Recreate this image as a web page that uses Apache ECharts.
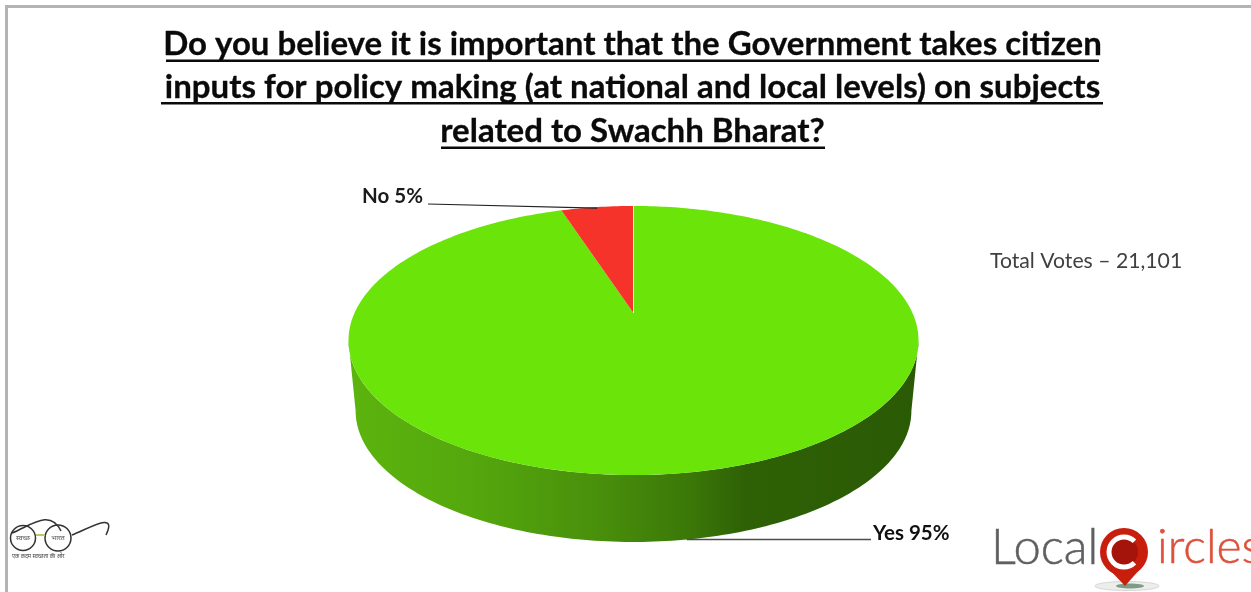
<!DOCTYPE html>
<html>
<head>
<meta charset="utf-8">
<style>html,body{margin:0;padding:0;background:#fff}#chart{width:1251px;height:592px}</style>
<script src="https://cdn.jsdelivr.net/npm/echarts@6/dist/echarts.min.js"></script>
</head>
<body>
<div id="chart"></div>
<script>
// Survey results
const categories = ['Yes', 'No'];
const shares = [95, 5];
const sliceColors = ['#6AE409', '#F5332B'];
const titleLines = [
  'Do you believe it is important that the Government takes citizen',
  'inputs for policy making (at national and local levels) on subjects',
  'related to Swachh Bharat?'
];
const totalVotesLabel = 'Total Votes \u2013 21,101';

// Tilted pie: a circle seen in perspective, far edge at the top
const pie = { cx: 633.5, apexY: 313, R: 279, A: 128.9, k: 0.2044, baseApexY: 384, baseScale: 0.975 };

function project(deg, scale, apexY) {
  const t = deg * Math.PI / 180, s = Math.sin(t), c = Math.cos(t), d = 1 + pie.k * c;
  return [pie.cx + scale * pie.R * s / d, apexY - scale * pie.A * c / d];
}
function rim(from, to, scale, apexY) {
  const pts = [], n = Math.max(2, Math.ceil(Math.abs(to - from)));
  for (let i = 0; i <= n; i++) pts.push(project(from + (to - from) * i / n, scale, apexY));
  return pts;
}
const total = shares.reduce((a, b) => a + b, 0);
function sliceRange(i) {
  let a = 0;
  for (let j = 0; j < i; j++) a += shares[j];
  return [a / total * 360, (a + shares[i]) / total * 360];
}
const wallFrom = Math.acos(-pie.k) * 180 / Math.PI, wallTo = 360 - wallFrom;
const wallFill = {
  type: 'linear', x: 350, y: 0, x2: 915, y2: 0, global: true,
  colorStops: [
    { offset: 0, color: '#5CB40E' }, { offset: 0.22, color: '#54A70D' },
    { offset: 0.45, color: '#488E0B' }, { offset: 0.6, color: '#3B7808' },
    { offset: 0.7, color: '#2E6106' }, { offset: 1, color: '#2B5A05' }
  ]
};

function renderSlice(params, api) {
  const i = params.dataIndex, value = api.value(0);
  const [a0, a1] = sliceRange(i);
  const children = [];
  const w0 = Math.max(a0, wallFrom), w1 = Math.min(a1, wallTo);
  if (w1 > w0 && value > 0) {
    children.push({
      type: 'polygon',
      shape: { points: rim(w0, w1, 1, pie.apexY).concat(rim(w1, w0, pie.baseScale, pie.baseApexY)) },
      style: { fill: wallFill }
    });
  }
  children.push({
    type: 'polygon',
    shape: { points: [[pie.cx, pie.apexY]].concat(rim(a0, a1, 1, pie.apexY)) },
    style: { fill: sliceColors[i] }
  });
  // Leader lines run from each slice's mid-angle to its label
  const mid = (a0 + a1) / 2;
  if (i === 0) {
    const p = project(mid, pie.baseScale, pie.baseApexY);
    children.push({ type: 'line', z2: 5, shape: { x1: p[0], y1: p[1], x2: 871, y2: p[1] }, style: { stroke: '#4d4d4d', lineWidth: 1.5 } });
    children.push({ type: 'text', z2: 6, style: { x: 873, y: 533, text: categories[i] + ' ' + value + '%', font: 'bold 20.5px Lato', fill: '#111', verticalAlign: 'middle' } });
  } else {
    const p = project(mid, 1, pie.apexY);
    children.push({ type: 'line', z2: 5, shape: { x1: 428, y1: 204, x2: p[0], y2: p[1] + 1 }, style: { stroke: '#222', lineWidth: 1.2 } });
    children.push({ type: 'text', z2: 6, style: { x: 362, y: 196, text: categories[i] + ' ' + value + '%', font: 'bold 20.5px Lato', fill: '#1a1a1a', verticalAlign: 'middle' } });
    // pale seam along the slice's upright edge
    children.push({ type: 'line', z2: 4, shape: { x1: pie.cx, y1: pie.apexY, x2: pie.cx, y2: p[1] - 2 }, style: { stroke: '#F3EFCF', lineWidth: 1 } });
  }
  return { type: 'group', children };
}

const titleY = [44, 87, 131];
const underlines = [[166, 1099, 59.5], [161, 1103, 102], [441, 825, 146.5]];
const graphics = [
  // Slide frame
  { type: 'rect', shape: { x: 5, y: 5, width: 1246, height: 3 }, style: { fill: '#b4b4b4' } },
  { type: 'rect', shape: { x: 5, y: 5, width: 3, height: 587 }, style: { fill: '#b4b4b4' } }
];
titleLines.forEach((t, i) => {
  graphics.push({ type: 'text', style: { x: 632.5, y: titleY[i], text: t, font: 'bold 33px Lato', fill: '#0a0a0a', stroke: '#0a0a0a', lineWidth: 0.3, align: 'center', verticalAlign: 'middle' } });
  const u = underlines[i];
  graphics.push({ type: 'rect', shape: { x: u[0], y: u[2], width: u[1] - u[0], height: 2.5 }, style: { fill: '#0a0a0a' } });
});
graphics.push({ type: 'text', style: { x: 990, y: 261, text: totalVotesLabel, font: '21.2px Lato', fill: '#404040', verticalAlign: 'middle' } });

// Swachh Bharat spectacles mark
const ink = { stroke: '#333', lineWidth: 1.5, fill: null };
graphics.push(
  { type: 'circle', shape: { cx: 23, cy: 538, r: 12.5 }, style: ink },
  { type: 'circle', shape: { cx: 58, cy: 538, r: 13 }, style: ink },
  { type: 'line', shape: { x1: 36, y1: 535, x2: 45, y2: 535 }, style: { stroke: '#b9c96a', lineWidth: 2 } },
  { type: 'bezierCurve', shape: { x1: 12, y1: 533, cpx1: 30, cpy1: 526, cpx2: 50, cpy2: 508, x2: 61, y2: 531 }, style: ink },
  { type: 'bezierCurve', shape: { x1: 72, y1: 535, cpx1: 88, cpy1: 529, cpx2: 118, cpy2: 510, x2: 106, y2: 535 }, style: ink },
  { type: 'text', style: { x: 23, y: 538, text: '\u0938\u094D\u0935\u091A\u094D\u091B', font: '7px "Noto Sans", sans-serif', fill: '#555', align: 'center', verticalAlign: 'middle' } },
  { type: 'text', style: { x: 58, y: 538, text: '\u092D\u093E\u0930\u0924', font: '7px "Noto Sans", sans-serif', fill: '#555', align: 'center', verticalAlign: 'middle' } },
  { type: 'text', style: { x: 12, y: 556, text: '\u090F\u0915 \u0915\u0926\u092E \u0938\u094D\u0935\u091A\u094D\u091B\u0924\u093E \u0915\u0940 \u0913\u0930', font: '5.5px "Noto Sans", sans-serif', fill: '#444', verticalAlign: 'middle' } }
);

// LocalCircles wordmark with its map pin
graphics.push(
  { type: 'text', style: { x: 991, y: 548, text: 'Local', font: '300 49px Lato', fill: '#5f5f5f', stroke: '#5f5f5f', lineWidth: 0.5, verticalAlign: 'middle' } },
  { type: 'text', style: { x: 1157, y: 548, text: 'ircles', font: '300 48px Lato', fill: '#DE5038', stroke: '#DE5038', lineWidth: 0.5, verticalAlign: 'middle' } },
  { type: 'ellipse', shape: { cx: 1127, cy: 586, rx: 32, ry: 4.5 }, style: { fill: '#eceeec', stroke: '#d5d5d5', lineWidth: 1 } },
  { type: 'ellipse', shape: { cx: 1130, cy: 586, rx: 14, ry: 2.5 }, style: { fill: '#7d9c86' } },
  { type: 'polygon', shape: { points: [[1108, 568], [1125, 586], [1141, 568]] }, style: { fill: '#C8200F' } },
  { type: 'circle', shape: { cx: 1124, cy: 552, r: 24 }, style: { fill: '#C81E0E' } },
  { type: 'circle', shape: { cx: 1124, cy: 552, r: 14 }, style: { fill: '#A5140A' } },
  { type: 'arc', shape: { cx: 1124, cy: 552, r: 15, startAngle: 0.8, endAngle: -0.8, clockwise: true }, style: { stroke: '#fff', lineWidth: 5, fill: null } }
);

const chart = echarts.init(document.getElementById('chart'), null, { renderer: 'canvas' });
chart.setOption({
  animation: false,
  backgroundColor: '#ffffff',
  graphic: { elements: graphics },
  series: [{
    type: 'custom',
    coordinateSystem: 'none',
    renderItem: renderSlice,
    data: shares.map((v, i) => ({ name: categories[i], value: [v] }))
  }]
});
</script>
</body>
</html>
